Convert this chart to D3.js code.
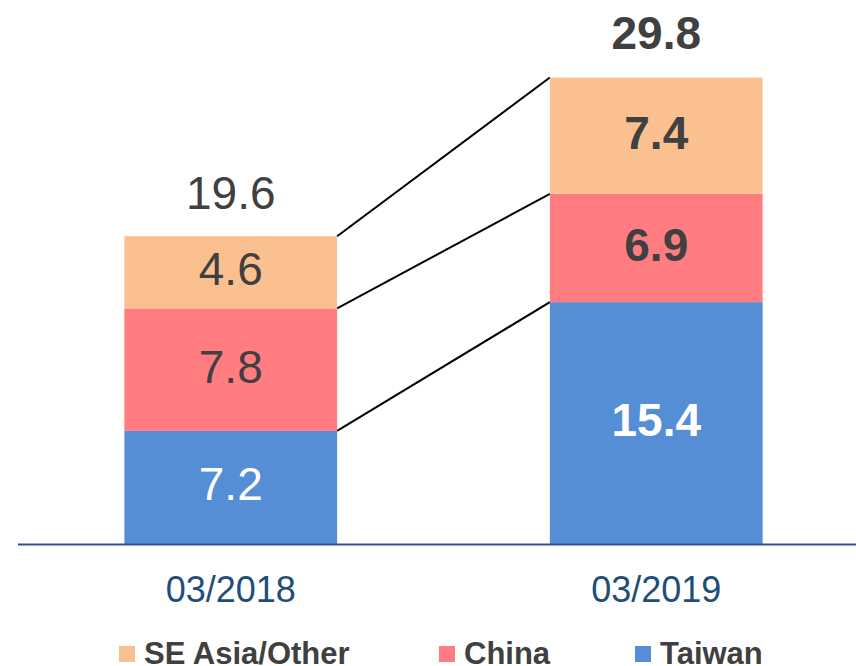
<!DOCTYPE html>
<html>
<head>
<meta charset="utf-8">
<script src="https://cdn.jsdelivr.net/npm/d3@7"></script>
<style>
  html, body { margin: 0; padding: 0; background: #fff; }
  svg { display: block; font-family: "Liberation Sans", Arial, sans-serif; }
</style>
</head>
<body>
<svg id="chart" width="856" height="666"></svg>
<script>
// ---- Data ----
const categories = ["03/2018", "03/2019"];
const seriesNames = ["Taiwan", "China", "SE Asia/Other"];
const taiwan = [7.2, 15.4];
const china = [7.8, 6.9];
const seAsia = [4.6, 7.4];
const totals = [19.6, 29.8];
const legendOrder = ["SE Asia/Other", "China", "Taiwan"];

// ---- Styles ----
const colors = { "Taiwan": "#558ed5", "China": "#ff7c80", "SE Asia/Other": "#fac090" };
const labelColors = { "Taiwan": "#ffffff", "China": "#404040", "SE Asia/Other": "#404040" };
const boldBar = [false, true];

const rows = categories.map((c, i) => ({
  cat: c, "Taiwan": taiwan[i], "China": china[i], "SE Asia/Other": seAsia[i], total: totals[i]
}));

const svg = d3.select("#chart");

const x = d3.scaleBand().domain(categories).range([18, 869]).paddingInner(0.5).paddingOuter(0.25);
const y = d3.scaleLinear().domain([0, 30]).range([544, 544 - 30 * 15.705]);

const stack = d3.stack().keys(seriesNames);
const stacked = stack(rows);

// connector lines
const c0 = categories[0], c1 = categories[1];
stacked.forEach(layer => {
  svg.append("line")
    .attr("x1", x(c0) + x.bandwidth())
    .attr("y1", y(layer[0][1]))
    .attr("x2", x(c1))
    .attr("y2", y(layer[1][1]))
    .attr("stroke", "#000")
    .attr("stroke-width", 2);
});

// bars
const g = svg.append("g");
stacked.forEach(layer => {
  g.selectAll(null)
    .data(layer)
    .enter()
    .append("rect")
    .attr("x", d => x(d.data.cat))
    .attr("width", x.bandwidth())
    .attr("y", d => y(d[1]))
    .attr("height", d => y(d[0]) - y(d[1]))
    .attr("fill", colors[layer.key]);
});

// segment labels
stacked.forEach(layer => {
  g.selectAll(null)
    .data(layer)
    .enter()
    .append("text")
    .attr("x", d => x(d.data.cat) + x.bandwidth() / 2)
    .attr("y", d => (y(d[0]) + y(d[1])) / 2 + 13)
    .attr("text-anchor", "middle")
    .attr("font-size", 46)
    .attr("font-weight", (d, i) => boldBar[i] ? "bold" : "normal")
    .attr("fill", labelColors[layer.key])
    .text(d => d.data[layer.key].toFixed(1));
});

// totals
svg.selectAll(null)
  .data(rows)
  .enter()
  .append("text")
  .attr("x", d => x(d.cat) + x.bandwidth() / 2)
  .attr("y", d => y(d.total) - 27)
  .attr("text-anchor", "middle")
  .attr("font-size", 46)
  .attr("font-weight", (d, i) => boldBar[i] ? "bold" : "normal")
  .attr("fill", "#404040")
  .text(d => d.total.toFixed(1));

// baseline axis
svg.append("line")
  .attr("x1", 18).attr("x2", 856)
  .attr("y1", y(0) + 0.5).attr("y2", y(0) + 0.5)
  .attr("stroke", "#2f5597")
  .attr("stroke-width", 2);

// category labels
svg.selectAll(null)
  .data(categories)
  .enter()
  .append("text")
  .attr("x", d => x(d) + x.bandwidth() / 2)
  .attr("y", 602)
  .attr("text-anchor", "middle")
  .attr("font-size", 36)
  .attr("fill", "#1f4e79")
  .text(d => d);

// legend
const legendX = [119, 439, 635];
const lg = svg.selectAll(null)
  .data(legendOrder)
  .enter()
  .append("g")
  .attr("transform", (d, i) => `translate(${legendX[i]},0)`);
lg.append("rect")
  .attr("x", 0).attr("y", 646)
  .attr("width", 16).attr("height", 16)
  .attr("fill", d => colors[d]);
lg.append("text")
  .attr("x", 25).attr("y", 664)
  .attr("font-size", 31)
  .attr("font-weight", "bold")
  .attr("fill", "#404040")
  .text(d => d);
</script>
</body>
</html>
